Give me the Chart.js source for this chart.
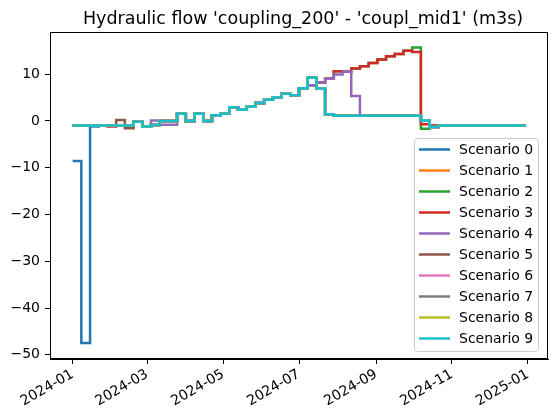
<!DOCTYPE html>
<html lang="en">

<head>
    <meta charset="UTF-8">
    <title>Hydraulic flow</title>
    <style>
        body {
            margin: 0;
            background: #ffffff;
        }

        #wrap {
            position: relative;
            width: 554px;
            height: 419px;
        }
    </style>
</head>

<body>
    <div id="wrap">
        <canvas id="flow-chart" width="554" height="419"></canvas>
    </div>

    <script src="https://cdn.jsdelivr.net/npm/chart.js"></script>
    <script>
        // weekly time steps, in days since 2024-01-01 (one every 7 days, 53 points)
        const days = [0, 7, 14, 21, 28, 35, 42, 49, 56, 63, 70, 77, 84, 91, 98, 105, 112, 119, 126, 133,
            140, 147, 154, 161, 168, 175, 182, 189, 196, 203, 210, 217, 224, 231, 238, 245, 252, 259, 266,
            273, 280, 287, 294, 301, 308, 315, 322, 329, 336, 343, 350, 357, 364];

        // x tick positions (days) and their labels
        const tickDays = [0, 60, 121, 182, 244, 305, 366];
        const tickLabels = ["2024-01", "2024-03", "2024-05", "2024-07", "2024-09", "2024-11", "2025-01"];
        const yTicks = [-50, -40, -30, -20, -10, 0, 10];

        const titleText = "Hydraulic flow 'coupling_200' - 'coupl_mid1' (m3s)";
        const scenarioNames = ["Scenario 0", "Scenario 1", "Scenario 2", "Scenario 3", "Scenario 4",
            "Scenario 5", "Scenario 6", "Scenario 7", "Scenario 8", "Scenario 9"];

        // flow values (m3s), one per week
        const s0 = [-8.6, -47.5, -1.2, -1.0, -1.0, -1.0, -1.0, -0.2, -1.2, -0.9, 0.0, 0.0, 1.5, 0.0, 1.5, 0.0, 1.2, 1.5, 2.9, 2.4,
            3.1, 3.8, 4.5, 5.0, 5.8, 5.5, 7.0, 9.2, 6.9, 1.4, 1.1, 1.1, 1.1, 1.1, 1.1, 1.1, 1.1, 1.1, 1.1, 1.1,
            0.1, -1.3, -1.0, -1.0, -1.0, -1.0, -1.0, -1.0, -1.0, -1.0, -1.0, -1.0, -1.0];
        const s1 = [-1.0, -1.0, -1.0, -1.0, -1.0, -1.0, -1.0, -0.2, -1.2, -0.9, 0.0, 0.0, 1.5, 0.0, 1.5, 0.0, 1.2, 1.5, 2.9, 2.4,
            3.1, 3.8, 4.5, 5.0, 5.8, 5.5, 7.0, 9.2, 6.9, 1.4, 1.1, 1.1, 1.1, 1.1, 1.1, 1.1, 1.1, 1.1, 1.1, 1.1,
            0.1, -1.3, -1.0, -1.0, -1.0, -1.0, -1.0, -1.0, -1.0, -1.0, -1.0, -1.0, -1.0];
        const s2 = [-1.0, -1.0, -1.0, -1.0, -1.0, -1.0, -1.0, -0.2, -1.2, -0.9, 0.0, 0.0, 1.5, 0.0, 1.5, 0.0, 1.2, 1.5, 2.9, 2.4,
            3.1, 3.8, 4.5, 5.0, 5.8, 5.5, 7.0, 7.6, 8.2, 9.0, 10.6, 10.5, 11.2, 11.7, 12.4, 13.1, 13.8, 14.3, 15.0, 15.7,
            -1.7, -1.0, -1.0, -1.0, -1.0, -1.0, -1.0, -1.0, -1.0, -1.0, -1.0, -1.0, -1.0];
        const s3 = [-1.0, -1.0, -1.0, -1.0, -1.2, -1.0, -1.0, -0.2, -1.2, -0.9, 0.0, 0.0, 1.5, 0.0, 1.5, 0.0, 1.2, 1.5, 2.9, 2.4,
            3.1, 3.8, 4.5, 5.0, 5.8, 5.5, 7.0, 7.6, 8.2, 9.0, 10.6, 10.5, 11.2, 11.7, 12.4, 13.1, 13.8, 14.3, 15.0, 14.7,
            -0.7, -1.0, -1.0, -1.0, -1.0, -1.0, -1.0, -1.0, -1.0, -1.0, -1.0, -1.0, -1.0];
        const s4 = [-1.0, -1.0, -1.0, -1.0, -1.0, -1.0, -1.0, -0.2, -1.2, 0.1, -0.8, -0.8, 1.5, 0.0, 1.5, 0.0, 1.2, 1.5, 2.9, 2.4,
            3.1, 3.8, 4.5, 5.0, 5.8, 5.5, 7.0, 7.6, 8.2, 9.0, 9.9, 10.5, 5.3, 1.1, 1.1, 1.1, 1.1, 1.1, 1.1, 1.1,
            0.1, -1.3, -1.0, -1.0, -1.0, -1.0, -1.0, -1.0, -1.0, -1.0, -1.0, -1.0, -1.0];
        const s5 = [-1.0, -1.0, -1.0, -1.0, -1.0, 0.2, -1.6, -0.2, -1.2, -0.9, 0.0, 0.0, 1.5, 0.0, 1.5, 0.0, 1.2, 1.5, 2.9, 2.4,
            3.1, 3.8, 4.5, 5.0, 5.8, 5.5, 7.0, 9.2, 6.9, 1.4, 1.1, 1.1, 1.1, 1.1, 1.1, 1.1, 1.1, 1.1, 1.1, 1.1,
            0.1, -1.3, -1.0, -1.0, -1.0, -1.0, -1.0, -1.0, -1.0, -1.0, -1.0, -1.0, -1.0];
        const s6 = [-1.0, -1.0, -1.0, -1.0, -1.0, -1.0, -1.0, -0.2, -1.2, -0.9, 0.0, 0.0, 1.5, 0.0, 1.5, 0.0, 1.2, 1.5, 2.9, 2.4,
            3.1, 3.8, 4.5, 5.0, 5.8, 5.5, 7.0, 9.2, 6.9, 1.4, 1.1, 1.1, 1.1, 1.1, 1.1, 1.1, 1.1, 1.1, 1.1, 1.1,
            0.1, -1.3, -1.0, -1.0, -1.0, -1.0, -1.0, -1.0, -1.0, -1.0, -1.0, -1.0, -1.0];
        const s7 = [-1.0, -1.0, -1.0, -1.0, -1.0, -1.0, -1.0, -0.2, -1.2, -0.9, 0.0, 0.0, 1.5, 0.0, 1.5, 0.0, 1.2, 1.5, 2.9, 2.4,
            3.1, 3.8, 4.5, 5.0, 5.8, 5.5, 7.0, 9.2, 6.9, 1.4, 1.1, 1.1, 1.1, 1.1, 1.1, 1.1, 1.1, 1.1, 1.1, 1.1,
            0.1, -1.3, -1.0, -1.0, -1.0, -1.0, -1.0, -1.0, -1.0, -1.0, -1.0, -1.0, -1.0];
        const s8 = [-1.0, -1.0, -1.0, -1.0, -1.0, -1.0, -1.0, -0.2, -1.2, -0.9, 0.0, 0.0, 1.5, 0.0, 1.5, 0.0, 1.2, 1.5, 2.9, 2.4,
            3.1, 3.8, 4.5, 5.0, 5.8, 5.5, 7.0, 9.2, 6.9, 1.4, 1.1, 1.1, 1.1, 1.1, 1.1, 1.1, 1.1, 1.1, 1.1, 1.1,
            0.1, -1.3, -1.0, -1.0, -1.0, -1.0, -1.0, -1.0, -1.0, -1.0, -1.0, -1.0, -1.0];
        const s9 = [-1.0, -1.0, -1.0, -1.0, -1.0, -1.0, -1.0, -0.2, -1.2, -0.9, 0.0, 0.0, 1.5, 0.0, 1.5, 0.0, 1.2, 1.5, 2.9, 2.4,
            3.1, 3.8, 4.5, 5.0, 5.8, 5.5, 7.0, 9.2, 6.9, 1.4, 1.1, 1.1, 1.1, 1.1, 1.1, 1.1, 1.1, 1.1, 1.1, 1.1,
            0.1, -1.3, -1.0, -1.0, -1.0, -1.0, -1.0, -1.0, -1.0, -1.0, -1.0, -1.0, -1.0];

        const series = [s0, s1, s2, s3, s4, s5, s6, s7, s8, s9];
        const colors = ["#1f77b4", "#ff7f0e", "#2ca02c", "#d62728", "#9467bd",
            "#8c564b", "#e377c2", "#7f7f7f", "#bcbd22", "#17becf"];

        const FONT = "'DejaVu Sans', sans-serif";
        Chart.defaults.font.family = FONT;
        Chart.defaults.color = "#000000";

        // title, frame round the plot + legend box in the lower right corner
        const framePlugin = {
            id: "frame",
            afterDraw(chart) {
                const ctx = chart.ctx;
                const a = chart.chartArea;
                ctx.save();
                ctx.strokeStyle = "#000000";
                ctx.lineWidth = 1;
                ctx.strokeRect(a.left + 0.5, a.top + 0.5, a.right - a.left - 1, a.bottom - a.top - 1);

                // title, centred over the plot
                ctx.font = "17.5px " + FONT;
                ctx.fillStyle = "#000000";
                ctx.textAlign = "center";
                ctx.textBaseline = "alphabetic";
                ctx.fillText(titleText, (a.left + a.right) / 2 + 4, a.top - 8);

                // legend
                const w = 124, h = 213;
                const x0 = a.right - 10 - w;
                const y0 = a.bottom - 8 - h;
                ctx.beginPath();
                ctx.roundRect(x0 + 0.5, y0 + 0.5, w, h, 3);
                ctx.fillStyle = "rgba(255,255,255,0.8)";
                ctx.fill();
                ctx.strokeStyle = "#cccccc";
                ctx.stroke();
                ctx.font = "14px " + FONT;
                ctx.textBaseline = "middle";
                ctx.textAlign = "left";
                chart.data.datasets.forEach((ds, i) => {
                    const y = y0 + 11.5 + 21 * i;
                    ctx.strokeStyle = ds.borderColor;
                    ctx.lineWidth = 2.5;
                    ctx.beginPath();
                    ctx.moveTo(x0 + 5, y);
                    ctx.lineTo(x0 + 36, y);
                    ctx.stroke();
                    ctx.fillStyle = "#000000";
                    ctx.fillText(ds.label, x0 + 45, y + 1);
                });
                ctx.restore();
            }
        };

        const ctx = document.getElementById("flow-chart").getContext("2d");
        new Chart(ctx, {
            type: "line",
            data: {
                datasets: series.map((vals, i) => ({
                    label: scenarioNames[i],
                    data: vals.map((v, k) => ({ x: days[k], y: v })),
                    borderColor: colors[i],
                    backgroundColor: colors[i],
                    borderWidth: 2.5,
                    pointRadius: 0,
                    stepped: true,
                    fill: false,
                    order: series.length - 1 - i,
                })),
            },
            options: {
                responsive: false,
                animation: false,
                layout: {
                    padding: { left: 0, right: 6, top: 32, bottom: 0 },
                },
                plugins: {
                    legend: { display: false },
                    tooltip: { enabled: false },
                    title: { display: false },
                },
                scales: {
                    x: {
                        type: "linear",
                        min: -18.2,
                        max: 382.2,
                        afterBuildTicks: (axis) => {
                            axis.ticks = tickDays.map((v) => ({ value: v }));
                        },
                        afterFit: (axis) => {
                            axis.height = 60;
                        },
                        ticks: {
                            autoSkip: false,
                            minRotation: 30,
                            maxRotation: 30,
                            padding: 2,
                            font: { size: 14 },
                            callback: (v) => tickLabels[tickDays.indexOf(v)],
                        },
                        grid: {
                            drawOnChartArea: false,
                            drawTicks: true,
                            tickLength: 5,
                            color: "#000000",
                        },
                        border: { display: true, color: "#000000" },
                    },
                    y: {
                        type: "linear",
                        min: -50.9,
                        max: 19.0,
                        afterBuildTicks: (axis) => {
                            axis.ticks = yTicks.map((v) => ({ value: v }));
                        },
                        afterFit: (axis) => {
                            axis.width = 50;
                        },
                        ticks: {
                            padding: 5,
                            font: { size: 14 },
                            callback: (v) => (v < 0 ? "\u2212" + Math.abs(v) : String(v)),
                        },
                        grid: {
                            drawOnChartArea: false,
                            drawTicks: true,
                            tickLength: 5,
                            color: "#000000",
                        },
                        border: { display: true, color: "#000000" },
                    },
                },
            },
            plugins: [framePlugin],
        });
    </script>
</body>

</html>
